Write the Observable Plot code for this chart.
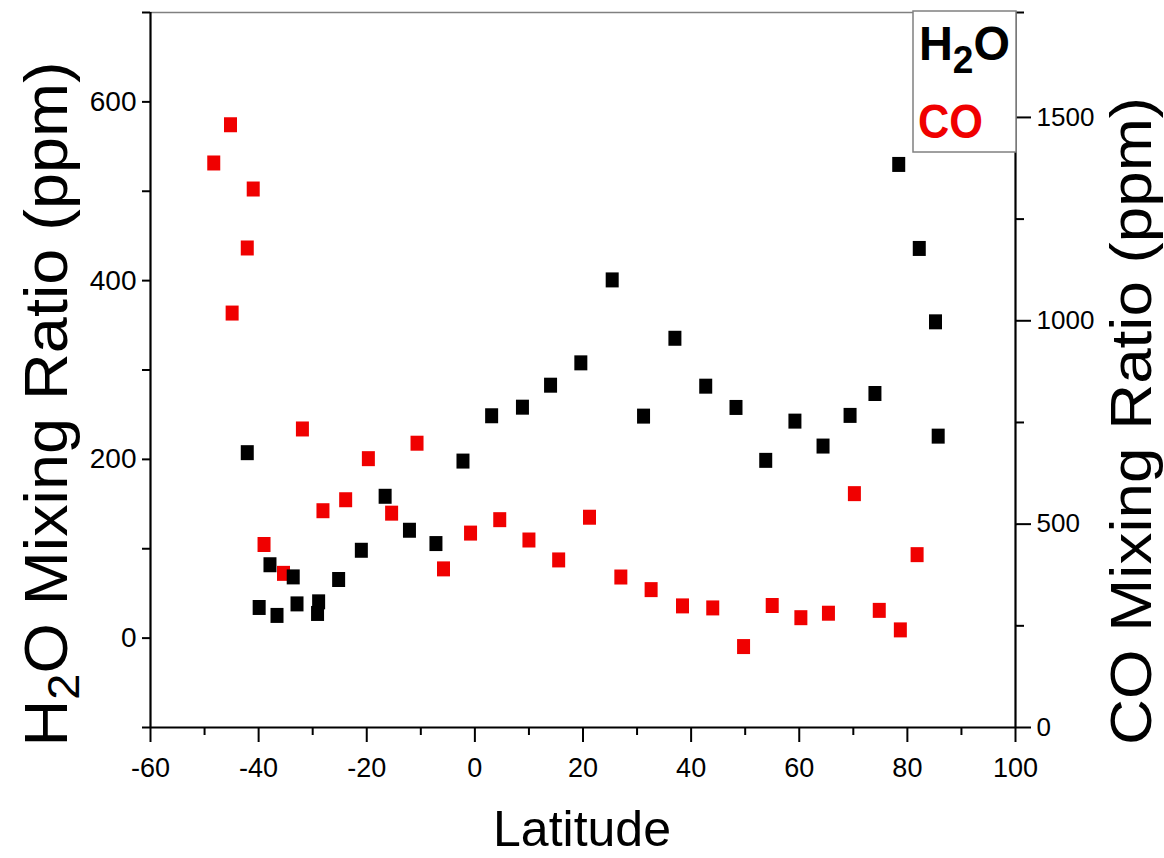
<!DOCTYPE html>
<html>
<head>
<meta charset="utf-8">
<script src="https://cdn.jsdelivr.net/npm/d3@7"></script>
<script src="https://cdn.jsdelivr.net/npm/@observablehq/plot@0.6"></script>
<style>
  body { margin: 0; background: #fff; }
  #chart { width: 1164px; height: 858px; }
</style>
</head>
<body>
<div id="chart"></div>
<script>
// ---- data ----
const h2oLat = [-42.1, -39.9, -37.9, -36.6, -33.6, -32.9, -29.1, -28.9, -25.2, -21.0, -16.6, -12.1, -7.2, -2.2, 3.1, 8.8, 14.0, 19.6, 25.4, 31.2, 37.0, 42.7, 48.3, 53.8, 59.2, 64.4, 69.4, 74.0, 78.4, 82.2, 85.2, 85.7];
const h2oVal = [207.5, 34.3, 82.1, 25.4, 68.5, 38.3, 27.6, 40.6, 65.6, 98.3, 158.7, 120.7, 105.8, 198.1, 248.8, 258.4, 283.0, 308.0, 400.8, 248.4, 335.5, 281.9, 258.1, 198.9, 242.8, 214.9, 249.2, 273.7, 530, 436, 353.9, 226];

const coLat = [-48.3, -45.2, -44.9, -42.1, -41.0, -39.0, -35.4, -31.9, -28.1, -23.9, -19.7, -15.4, -10.7, -5.8, -0.8, 4.6, 10.0, 15.5, 21.2, 27.0, 32.6, 38.4, 44.0, 49.7, 55.0, 60.3, 65.4, 70.2, 74.8, 78.7, 81.8];
const coVal = [1388, 1482, 1019, 1179, 1324, 450, 379, 734, 533, 560, 661, 527, 699, 390, 478, 511, 461, 412, 517, 370, 339, 299, 294, 199, 300, 270, 281, 575, 288, 240, 425];

const xDomain = [-60, 100];
const xMajorTicks = [-60, -40, -20, 0, 20, 40, 60, 80, 100];
const xMinorTicks = [-50, -30, -10, 10, 30, 50, 70, 90];
const h2oDomain = [-100, 700];
const h2oMajorTicks = [0, 200, 400, 600];
const h2oMinorTicks = [-100, 100, 300, 500, 700];
const coMax = 1758;
const coMajorTicks = [0, 500, 1000, 1500];
const coMinorTicks = [250, 750, 1250, coMax];

// CO values are drawn on the shared y scale via a linear mapping to the right axis
const co2y = v => h2oDomain[0] + v * (h2oDomain[1] - h2oDomain[0]) / coMax;

const h2oData = h2oLat.map((lat, i) => ({lat, v: h2oVal[i]}));
const coData = coLat.map((lat, i) => ({lat, v: co2y(coVal[i])}));
const coMajorMap = new Map(coMajorTicks.map(t => [co2y(t), t]));

const rectSym = {
  draw(ctx) {
    ctx.moveTo(-6.5, -7.5); ctx.lineTo(6.5, -7.5); ctx.lineTo(6.5, 7.5); ctx.lineTo(-6.5, 7.5); ctx.closePath();
  }
};

const font = "'Liberation Sans', Arial, Helvetica, sans-serif";

const chart = Plot.plot({
  width: 1164,
  height: 858,
  marginLeft: 150,
  marginRight: 149,
  marginTop: 12,
  marginBottom: 131,
  x: {domain: xDomain},
  y: {domain: h2oDomain},
  style: {fontFamily: font, background: "white", color: "black"},
  marks: [
    // frame
    Plot.ruleY([h2oDomain[1]], {stroke: "#808080", strokeWidth: 1.5}),
    Plot.ruleX([xDomain[0]], {stroke: "black", strokeWidth: 2.2}),
    Plot.ruleX([xDomain[1]], {stroke: "black", strokeWidth: 2.2}),
    Plot.ruleY([h2oDomain[0]], {stroke: "black", strokeWidth: 2.2}),
    // x axis
    Plot.axisX(xMajorTicks, {anchor: "bottom", tickSize: 15, tickPadding: 15, fontSize: 27, strokeWidth: 2, label: null, tickFormat: d => String(d)}),
    Plot.axisX(xMinorTicks, {anchor: "bottom", tickSize: 8, strokeWidth: 2, label: null, tickFormat: () => ""}),
    // left (H2O) axis
    Plot.axisY(h2oMajorTicks, {anchor: "left", tickSize: 8, tickPadding: 6, fontSize: 28, strokeWidth: 2, label: null, tickFormat: d => String(d)}),
    Plot.axisY(h2oMinorTicks, {anchor: "left", tickSize: 8, strokeWidth: 2, label: null, tickFormat: () => ""}),
    // right (CO) axis
    Plot.axisY(coMajorTicks.map(co2y), {anchor: "right", tickSize: 15, tickPadding: 6, fontSize: 26, strokeWidth: 2, label: null, tickFormat: d => String(coMajorMap.get(d))}),
    Plot.axisY(coMinorTicks.map(co2y), {anchor: "right", tickSize: 8, strokeWidth: 2, label: null, tickFormat: () => ""}),
    // data
    Plot.dot(coData, {x: "lat", y: "v", symbol: rectSym, fill: "#f00000", stroke: "none"}),
    Plot.dot(h2oData, {x: "lat", y: "v", symbol: rectSym, fill: "black", stroke: "none"})
  ]
});

document.getElementById("chart").appendChild(chart);

const svg = d3.select(chart);

// axis titles
const lt = svg.append("text")
  .attr("transform", "translate(67,404) rotate(-90)")
  .attr("text-anchor", "middle")
  .attr("font-family", font)
  .attr("font-size", 62)
  .attr("fill", "black")
  .attr("textLength", 685).attr("lengthAdjust", "spacingAndGlyphs");
lt.append("tspan").text("H");
lt.append("tspan").attr("font-size", 45).attr("dy", 12).text("2");
lt.append("tspan").attr("dy", -12).text("O Mixing Ratio (ppm)");

svg.append("text")
  .attr("transform", "translate(1151,421) rotate(-90)")
  .attr("text-anchor", "middle")
  .attr("font-family", font)
  .attr("font-size", 57)
  .attr("fill", "black")
  .attr("textLength", 648).attr("lengthAdjust", "spacingAndGlyphs")
  .text("CO Mixing Ratio (ppm)");

svg.append("text")
  .attr("x", 582)
  .attr("y", 846)
  .attr("text-anchor", "middle")
  .attr("font-family", font)
  .attr("font-size", 50)
  .attr("fill", "black")
  .text("Latitude");

// legend
const lg = svg.append("g").attr("text-anchor", "start");
lg.append("rect").attr("x", 913).attr("y", 11).attr("width", 103).attr("height", 141)
  .attr("fill", "white").attr("stroke", "#808080").attr("stroke-width", 1.5);
const t1 = lg.append("text").attr("x", 919).attr("y", 60).attr("text-anchor", "start")
  .attr("font-family", font).attr("font-weight", "bold").attr("font-size", 48).attr("fill", "black")
  .attr("textLength", 91).attr("lengthAdjust", "spacingAndGlyphs");
t1.append("tspan").text("H");
t1.append("tspan").attr("font-size", 38).attr("dy", 13).text("2");
t1.append("tspan").attr("dy", -13).text("O");
lg.append("text").attr("x", 918).attr("y", 138).attr("text-anchor", "start")
  .attr("font-family", font).attr("font-weight", "bold").attr("font-size", 48).attr("fill", "#f00000")
  .attr("textLength", 65).attr("lengthAdjust", "spacingAndGlyphs")
  .text("CO");
</script>
</body>
</html>
